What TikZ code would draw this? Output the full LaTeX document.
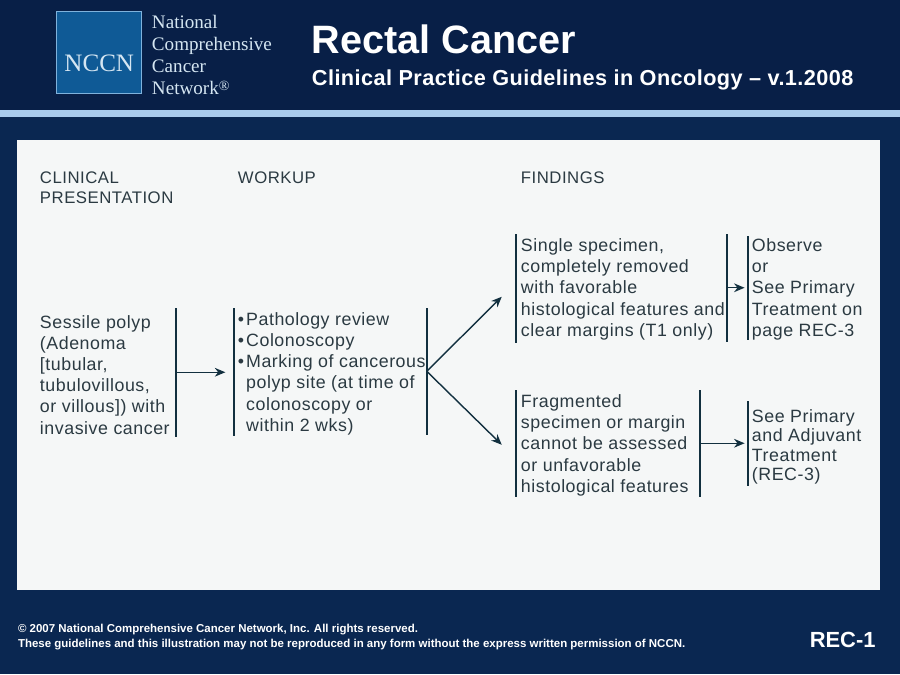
\documentclass[tikz,border=0pt]{standalone}
\usepackage{fontspec}
\setmainfont{Liberation Sans}
\newfontfamily\logofont{Liberation Serif}
\newfontfamily\bodyfont[LetterSpace=3]{Liberation Sans}
\newfontfamily\headfont[LetterSpace=2,BoldFont={Liberation Sans Bold}]{Liberation Sans}
\usetikzlibrary{arrows.meta, positioning, calc}
\definecolor{navy}{HTML}{0A2751}
\definecolor{navydark}{HTML}{081F47}
\definecolor{band}{HTML}{A9CBEC}
\definecolor{logoblue}{HTML}{0F5A96}
\definecolor{logoline}{HTML}{7FB2DC}
\definecolor{logotext}{HTML}{D5E6F2}
\definecolor{panel}{HTML}{F5F7F7}
\definecolor{ink}{HTML}{2B3A42}
\definecolor{barcol}{HTML}{12303F}
\begin{document}
\begin{tikzpicture}[
  x=0.03cm, y=-0.03cm,
  bodytext/.style={
    anchor=west, inner sep=0pt, align=left, text=ink,
    font=\bodyfont\fontsize{15.2}{18.1}\selectfont
  },
  columnhead/.style={
    anchor=west, inner sep=0pt, align=left, text=ink,
    font=\bodyfont\fontsize{14.3}{17.8}\selectfont
  },
  logotype/.style={
    anchor=west, inner sep=0pt, align=left, text=logotext,
    font=\logofont\fontsize{16.3}{18.7}\selectfont
  },
  bartick/.style={
    fill=barcol, inner sep=0pt, minimum width=0.07cm
  },
  darr/.style={->, >={Stealth[length=9pt,width=7.5pt]}, barcol, line width=1.2pt},
]
\node[fill=navy, minimum width=27cm, minimum height=20.22cm, inner sep=0pt, anchor=north west] (page) at (0,0) {};
\node[fill=navydark, minimum width=27cm, minimum height=3.3cm, inner sep=0pt, anchor=north west] (head) at (0,0) {};
\node[fill=band, minimum width=27cm, minimum height=0.21cm, inner sep=0pt, anchor=north west] (strip) at (0,110) {};
\node[fill=panel, minimum width=25.89cm, minimum height=13.5cm, inner sep=0pt, anchor=north west] (sheet) at (17,140) {};
% header
\node[draw=logoline, fill=logoblue, line width=0.8pt, minimum width=2.55cm, minimum height=2.46cm, inner sep=0pt] (logo) at (99.5,53) {};
\node[font=\logofont\fontsize{21.4}{22}\selectfont, text=logotext] (nccn) at (99.5,64) {NCCN};
\node[logotype] (org) at (152,55) {National\\Comprehensive\\Cancer\\Network\raisebox{3pt}{\fontsize{12}{12}\selectfont ®}};
\node[anchor=west, inner sep=0pt, text=white, font=\bfseries\fontsize{33.8}{36}\selectfont] (title) at (312,40) {Rectal Cancer};
\node[anchor=west, inner sep=0pt, text=white, font=\headfont\bfseries\fontsize{18.5}{20}\selectfont] (subtitle) at (312,80.5) {Clinical Practice Guidelines in Oncology \textendash{} v.1.2008};
% column heads
\node[columnhead] (clin) at (40,188) {CLINICAL\\PRESENTATION};
\node[columnhead] (work) at (238,178) {WORKUP};
\node[columnhead] (find) at (521,178) {FINDINGS};
% text blocks
\node[bodytext] (polyp) at (40,375) {Sessile polyp\\(Adenoma\\{[}tubular,\\tubulovillous,\\or villous]) with\\invasive cancer};
\node[bodytext] (path) at (238,374) {\makebox[7pt][l]{•}Pathology review\\\makebox[7pt][l]{•}Colonoscopy\\\makebox[7pt][l]{•}Marking of cancerous\\\hspace*{7pt}polyp site (at time of\\\hspace*{7pt}colonoscopy or\\\hspace*{7pt}within 2 wks)};
\node[bodytext] (single) at (521,289.5) {Single specimen,\\completely removed\\with favorable\\histological features and\\clear margins (T1 only)};
\node[bodytext] (frag) at (521,445.5) {Fragmented\\specimen or margin\\cannot be assessed\\or unfavorable\\histological features};
\node[bodytext] (obs) at (752,289.5) {Observe\\or\\See Primary\\Treatment on\\page REC-3};
\node[bodytext, font=\bodyfont\fontsize{15.2}{16.6}\selectfont] (adj) at (752,447) {See Primary\\and Adjuvant\\Treatment\\(REC-3)};
% bars
\node[bartick, minimum height=3.87cm] (bara) at (176,372.5) {};
\node[bartick, minimum height=3.84cm] (barb) at (234,372.5) {};
\node[bartick, minimum height=3.81cm] (barc) at (427,371.5) {};
\node[bartick, minimum height=3.27cm] (bard) at (516,288.5) {};
\node[bartick, minimum height=3.24cm] (bare) at (727,288) {};
\node[bartick, minimum height=3.12cm] (barf) at (748,288) {};
\node[bartick, minimum height=3.21cm] (barg) at (516,443.5) {};
\node[bartick, minimum height=3.21cm] (barh) at (700,443.5) {};
\node[bartick, minimum height=2.55cm] (bari) at (748,443.5) {};
\coordinate (upend) at (502,297);
\coordinate (downend) at (502,445);
% arrows
\draw[darr, shorten >=6pt] (bara) -- (barb);
\draw[darr] (barc.center) -- (upend);
\draw[darr] (barc.center) -- (downend);
\draw[darr, shorten >=1.5pt] (bare) -- (barf);
\draw[darr, shorten >=1.5pt] (barh) -- (bari);
% footer
\node[anchor=west, inner sep=0pt, align=left, text=white, font=\bfseries\fontsize{9.8}{12.8}\selectfont] (legal) at (18,637.5) {© 2007 National Comprehensive Cancer Network, Inc. All rights reserved.\\These guidelines and this illustration may not be reproduced in any form without the express written permission of NCCN.};
\node[anchor=east, inner sep=0pt, text=white, font=\bfseries\fontsize{18.7}{20}\selectfont] (pageno) at (876,640) {REC-1};
\end{tikzpicture}
\end{document}
